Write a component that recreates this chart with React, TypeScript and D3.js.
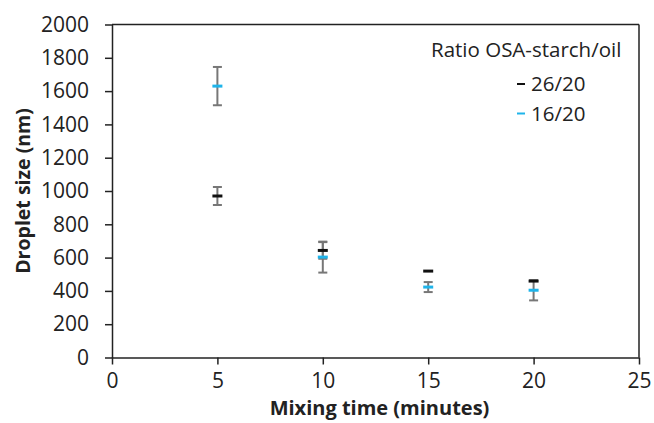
import { useEffect, useRef } from "react";
import * as d3 from "d3";

const times = [5, 10, 15, 20];
const ratio26 = [970, 643, 519, 459];
const err26 = [54, 50, 0, 0];
const ratio16 = [1630, 603, 423, 404];
const err16 = [115, 93, 30, 61];
const xTicks = [0, 5, 10, 15, 20, 25];
const yTicks = [0, 200, 400, 600, 800, 1000, 1200, 1400, 1600, 1800, 2000];

const series = [
  { label: "26/20", values: ratio26, errors: err26, color: "#111111" },
  { label: "16/20", values: ratio16, errors: err16, color: "#1fb4ea" },
];

const FONT = "'Open Sans', 'Liberation Sans', sans-serif";

const App = () => {
  const svgRef = useRef<SVGSVGElement>(null);

  useEffect(() => {
    const svg = d3.select(svgRef.current);
    svg.selectAll("*").remove();

    const left = 112;
    const right = 639;
    const top = 24.5;
    const bottom = 357.5;

    const x = d3.scaleLinear().domain([0, 25]).range([left, right]);
    const y = d3.scaleLinear().domain([0, 2000]).range([bottom, top]);

    // frame top + right
    svg
      .append("line")
      .attr("x1", left)
      .attr("x2", right)
      .attr("y1", top)
      .attr("y2", top)
      .attr("stroke", "#222")
      .attr("stroke-width", 1.5);
    svg
      .append("line")
      .attr("x1", right)
      .attr("x2", right)
      .attr("y1", top)
      .attr("y2", bottom)
      .attr("stroke", "#222")
      .attr("stroke-width", 1.5);

    const yAxis = svg
      .append("g")
      .attr("transform", `translate(${left},0)`)
      .call(
        d3
          .axisLeft(y)
          .tickValues(yTicks)
          .tickFormat(d3.format("d"))
          .tickSize(7)
          .tickSizeOuter(0)
          .tickPadding(16)
      );
    yAxis.selectAll("text").style("font-size", "21px").style("fill", "#222");

    const xAxis = svg
      .append("g")
      .attr("transform", `translate(0,${bottom})`)
      .call(
        d3.axisBottom(x).tickValues(xTicks).tickSize(7).tickSizeOuter(0).tickPadding(9)
      );
    xAxis.selectAll("text").style("font-size", "21px").style("fill", "#222");

    svg.selectAll(".domain").attr("stroke", "#222").attr("stroke-width", 1.5);
    svg.selectAll(".tick line").attr("stroke", "#222").attr("stroke-width", 1.5);
    svg.selectAll(".tick text").style("font-family", FONT);

    // error bars
    series.forEach((s) => {
      const g = svg.append("g");
      times.forEach((t, i) => {
        const e = s.errors[i];
        if (!e) return;
        const cx = x(t);
        const y1 = y(s.values[i] + e);
        const y2 = y(s.values[i] - e);
        g.append("line")
          .attr("x1", cx)
          .attr("x2", cx)
          .attr("y1", y1)
          .attr("y2", y2)
          .attr("stroke", "#777")
          .attr("stroke-width", 2);
        [y1, y2].forEach((yy) => {
          g.append("line")
            .attr("x1", cx - 4.5)
            .attr("x2", cx + 4.5)
            .attr("y1", yy)
            .attr("y2", yy)
            .attr("stroke", "#777")
            .attr("stroke-width", 2);
        });
      });
    });

    // dash markers
    series.forEach((s) => {
      svg
        .append("g")
        .selectAll("line")
        .data(times)
        .enter()
        .append("line")
        .attr("x1", (d) => x(d) - 5)
        .attr("x2", (d) => x(d) + 5)
        .attr("y1", (d, i) => y(s.values[i]))
        .attr("y2", (d, i) => y(s.values[i]))
        .attr("stroke", s.color)
        .attr("stroke-width", 3);
    });

    // legend
    const legend = svg.append("g").style("font-family", FONT).style("font-size", "20.5px");
    legend
      .append("text")
      .attr("x", 431)
      .attr("y", 57)
      .attr("fill", "#222")
      .text("Ratio OSA-starch/oil");

    const items = legend
      .selectAll(".legend-item")
      .data(series)
      .enter()
      .append("g")
      .attr("transform", (d, i) => `translate(517, ${84 + i * 29.5})`);
    items
      .append("line")
      .attr("x1", 0)
      .attr("x2", 8)
      .attr("stroke", (d) => d.color)
      .attr("stroke-width", 2);
    items
      .append("text")
      .attr("x", 14)
      .attr("y", 7)
      .attr("fill", "#222")
      .text((d) => d.label);

    // axis titles
    svg
      .append("text")
      .attr("x", (left + right) / 2 + 4)
      .attr("y", 415)
      .attr("text-anchor", "middle")
      .style("font-family", FONT)
      .style("font-size", "20px")
      .style("font-weight", "bold")
      .attr("fill", "#222")
      .text("Mixing time (minutes)");

    svg
      .append("text")
      .attr("transform", `translate(30, ${(top + bottom) / 2}) rotate(-90)`)
      .attr("text-anchor", "middle")
      .style("font-family", FONT)
      .style("font-size", "19.5px")
      .style("font-weight", "bold")
      .attr("fill", "#222")
      .text("Droplet size (nm)");
  }, []);

  return (
    <svg
      ref={svgRef}
      width={654}
      height={423}
      style={{ position: "absolute", left: 0, top: 0, background: "#fff" }}
    ></svg>
  );
};

export default App;
